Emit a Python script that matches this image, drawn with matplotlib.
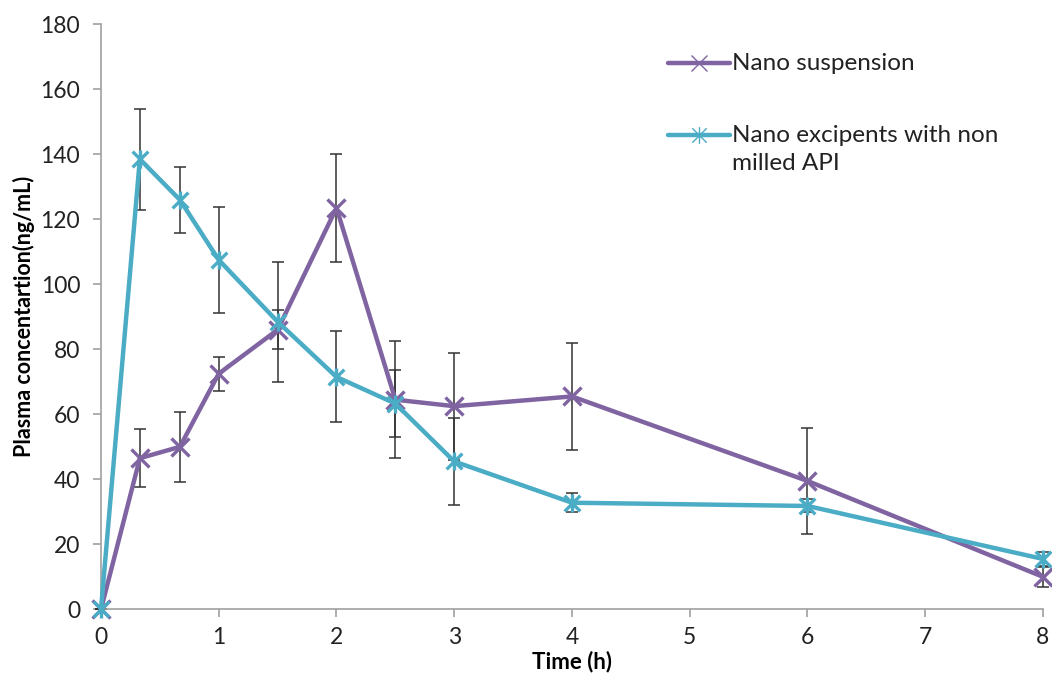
import matplotlib
matplotlib.use("Agg")
import matplotlib.pyplot as plt
from matplotlib.lines import Line2D
from matplotlib.path import Path

# Sampling times (h)
time_h = [0, 0.33, 0.67, 1, 1.5, 2, 2.5, 3, 4, 6, 8]

# Nano suspension: mean plasma concentration and SD (ng/mL)
nano_susp_mean = [0, 46.5, 50, 72.5, 86, 123.5, 64.5, 62.5, 65.5, 39.5, 10]
nano_susp_sd = [0, 9, 10.7, 5.2, 6, 16.5, 18, 16.5, 16.5, 16.4, 3]

# Nano excipients with non-milled API: mean and SD (ng/mL)
nano_exc_mean = [0, 138.5, 126, 107.5, 88.5, 71.5, 63.3, 45.5, 32.8, 31.8, 15.5]
nano_exc_sd = [0, 15.5, 10.2, 16.4, 18.5, 14, 10.4, 13.5, 3, 2, 2.2]

x_ticks = [0, 1, 2, 3, 4, 5, 6, 7, 8]
y_ticks = [0, 20, 40, 60, 80, 100, 120, 140, 160, 180]

PURPLE = "#8064A2"
AQUA = "#4BACC6"
GRID_GREY = "#A0A0A0"

plt.rcParams["font.family"] = ["Lato", "DejaVu Sans"]

# asterisk marker: an 'x' with a vertical stroke through it
star = Path(
    [(-1, -1), (1, 1), (-1, 1), (1, -1), (0, -1.15), (0, 1.15)],
    [Path.MOVETO, Path.LINETO, Path.MOVETO, Path.LINETO, Path.MOVETO, Path.LINETO],
)

W, H = 1052, 675
fig = plt.figure(figsize=(W / 100, H / 100), dpi=100)
ax = fig.add_axes([0.096, 0.0973, 0.8954, 0.8667])

err_kw = dict(fmt="none", ecolor="#333333", elinewidth=1.1, capsize=4.5,
              capthick=1.1, zorder=2, clip_on=False)
ax.errorbar(time_h, nano_susp_mean, yerr=nano_susp_sd, **err_kw)
ax.errorbar(time_h, nano_exc_mean, yerr=nano_exc_sd, **err_kw)

ax.plot(time_h, nano_susp_mean, color=PURPLE, lw=3.2, marker="x", ms=13,
        mew=2.4, zorder=3, clip_on=False)
ax.plot(time_h, nano_exc_mean, color=AQUA, lw=3.2, marker=star, ms=13,
        mew=2.4, zorder=4, clip_on=False)

ax.set_xlim(0, 8)
ax.set_ylim(0, 180)
ax.set_xticks(x_ticks)
ax.set_yticks(y_ticks)

for side in ("top", "right"):
    ax.spines[side].set_visible(False)
for side in ("left", "bottom"):
    ax.spines[side].set_color(GRID_GREY)
    ax.spines[side].set_linewidth(1.2)

ax.tick_params(axis="both", direction="out", length=6, width=1.2,
               color=GRID_GREY, labelsize=16.5, labelcolor="#222222")
ax.tick_params(axis="x", pad=7)
ax.tick_params(axis="y", pad=9)

ax.set_xlabel("Time (h)", fontsize=16, fontweight="bold", labelpad=2)
ax.set_ylabel("Plasma concentartion(ng/mL)", fontsize=15.5, fontweight="bold",
              labelpad=4)


# key, placed in pixel positions on the figure
def px(x, y):
    return x / W, 1 - y / H


def key_entry(y, color, marker, lines):
    (x0, yy), (x1, _) = px(668, y), px(730, y)
    fig.add_artist(Line2D([x0, x1], [yy, yy], color=color, lw=3.2,
                          solid_capstyle="round"))
    fig.add_artist(Line2D([(x0 + x1) / 2], [yy], color=color, marker=marker,
                          ms=12, mew=1.0, ls="none"))
    for i, line in enumerate(lines):
        tx, ty = px(732, y + 28 * i)
        fig.text(tx, ty, line, fontsize=17.5, color="#222222",
                 ha="left", va="center")


key_entry(63, PURPLE, "x", ["Nano suspension"])
key_entry(135, AQUA, star, ["Nano excipents with non", "milled API"])

fig.savefig("out.png", dpi=100)
